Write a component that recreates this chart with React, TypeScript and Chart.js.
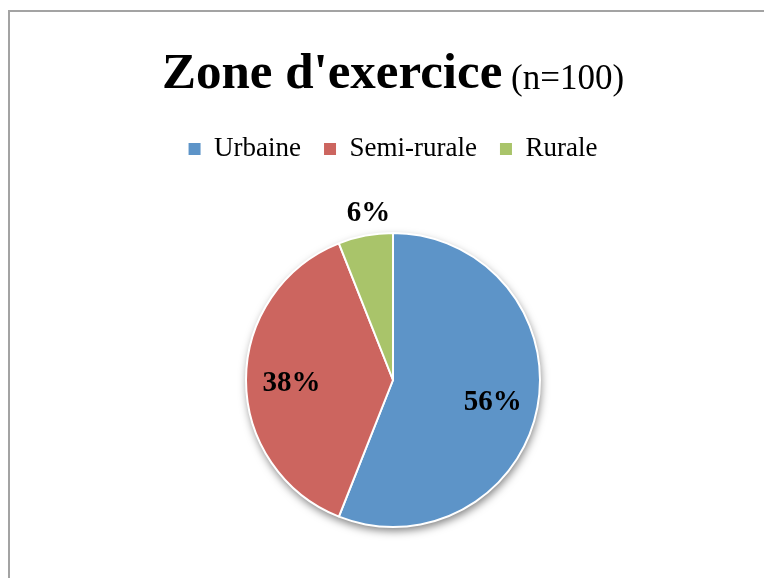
import React, { useEffect, useRef } from "react";
import { Chart, registerables } from "chart.js";

Chart.register(...registerables);

const categories = ["Urbaine", "Semi-rurale", "Rurale"];
const values = [56, 38, 6];
const colors = ["#5d94c8", "#cc655f", "#a9c46a"];
const titleMain = "Zone d'exercice";
const titleSub = "(n=100)";

const FONT = "'Liberation Serif', 'Times New Roman', serif";

export default function App() {
  const ref = useRef<HTMLCanvasElement>(null);

  useEffect(() => {
    if (!ref.current) return;

    const shadowPlugin = {
      id: "pieShadow",
      beforeDatasetsDraw(chart: any) {
        const arc = chart.getDatasetMeta(0).data[0];
        if (!arc) return;
        const { x, y, outerRadius } = arc.getProps(["x", "y", "outerRadius"], true);
        const ctx = chart.ctx;
        ctx.save();
        ctx.shadowColor = "rgba(0,0,0,0.5)";
        ctx.shadowBlur = 9;
        ctx.shadowOffsetX = 1;
        ctx.shadowOffsetY = 4;
        ctx.beginPath();
        ctx.arc(x, y, outerRadius, 0, Math.PI * 2);
        ctx.fillStyle = "#ffffff";
        ctx.fill();
        ctx.restore();
      },
    };

    const labelPlugin = {
      id: "sliceLabels",
      afterDatasetsDraw(chart: any) {
        const ctx = chart.ctx;
        const meta = chart.getDatasetMeta(0);
        ctx.save();
        ctx.font = `bold 29px ${FONT}`;
        ctx.fillStyle = "#000";
        ctx.textAlign = "center";
        ctx.textBaseline = "middle";
        meta.data.forEach((arc: any, i: number) => {
          const { x, y, startAngle, endAngle, outerRadius } = arc.getProps(
            ["x", "y", "startAngle", "endAngle", "outerRadius"],
            true
          );
          const mid = (startAngle + endAngle) / 2;
          let tx: number;
          let ty: number;
          if (values[i] < 10) {
            tx = x + Math.cos(mid) * outerRadius + 3;
            ty = y + Math.sin(mid) * outerRadius - 22;
          } else {
            tx = x + Math.cos(mid) * outerRadius * 0.69;
            ty = y + Math.sin(mid) * outerRadius * 0.69 + 4;
          }
          ctx.fillText(values[i] + "%", tx, ty);
        });
        ctx.restore();
      },
    };

    const titlePlugin = {
      id: "mixedTitle",
      afterDraw(chart: any) {
        const ctx = chart.ctx;
        const ca = chart.chartArea;
        const cx = (ca.left + ca.right) / 2;
        ctx.save();
        ctx.fillStyle = "#000";
        ctx.textBaseline = "alphabetic";
        ctx.textAlign = "left";
        ctx.font = `bold 51px ${FONT}`;
        const w1 = ctx.measureText(titleMain).width;
        ctx.font = `35px ${FONT}`;
        const sub = " " + titleSub;
        const w2 = ctx.measureText(sub).width;
        const start = cx - (w1 + w2) / 2;
        ctx.font = `bold 51px ${FONT}`;
        ctx.fillText(titleMain, start, 88);
        ctx.font = `35px ${FONT}`;
        ctx.fillText(sub, start + w1, 89);
        ctx.restore();
      },
    };

    const chart = new Chart(ref.current, {
      type: "pie",
      data: {
        labels: categories,
        datasets: [
          {
            data: values,
            backgroundColor: colors,
            borderColor: "#ffffff",
            borderWidth: 2,
          },
        ],
      },
      options: {
        responsive: false,
        animation: false,
        devicePixelRatio: 1,
        radius: 147,
        layout: {
          padding: { top: 112.5, bottom: 12.5, left: 22, right: 0 },
        },
        plugins: {
          title: { display: false },
          tooltip: { enabled: false },
          legend: {
            display: true,
            position: "top",
            labels: {
              boxWidth: 12,
              boxHeight: 12,
              padding: 23,
              color: "#000",
              font: { family: FONT, size: 27 },
              generateLabels(c: any) {
                const base = (Chart as any).overrides.pie.plugins.legend.labels.generateLabels(c);
                return base.map((l: any) => ({ ...l, lineWidth: 0, strokeStyle: l.fillStyle }));
              },
            },
          },
        },
      } as any,
      plugins: [shadowPlugin, labelPlugin, titlePlugin],
    });

    return () => chart.destroy();
  }, []);

  return (
    <div
      style={{
        position: "fixed",
        left: 0,
        top: 0,
        width: 764,
        height: 578,
        overflow: "hidden",
        background: "#fff",
      }}
    >
      <div
        style={{
          position: "absolute",
          left: 8,
          top: 10,
          width: 2000,
          height: 2000,
          border: "2px solid #a3a3a3",
        }}
      />
      <canvas
        ref={ref}
        width={764}
        height={600}
        style={{ position: "absolute", left: 0, top: 0, width: 764, height: 600 }}
      />
    </div>
  );
}
